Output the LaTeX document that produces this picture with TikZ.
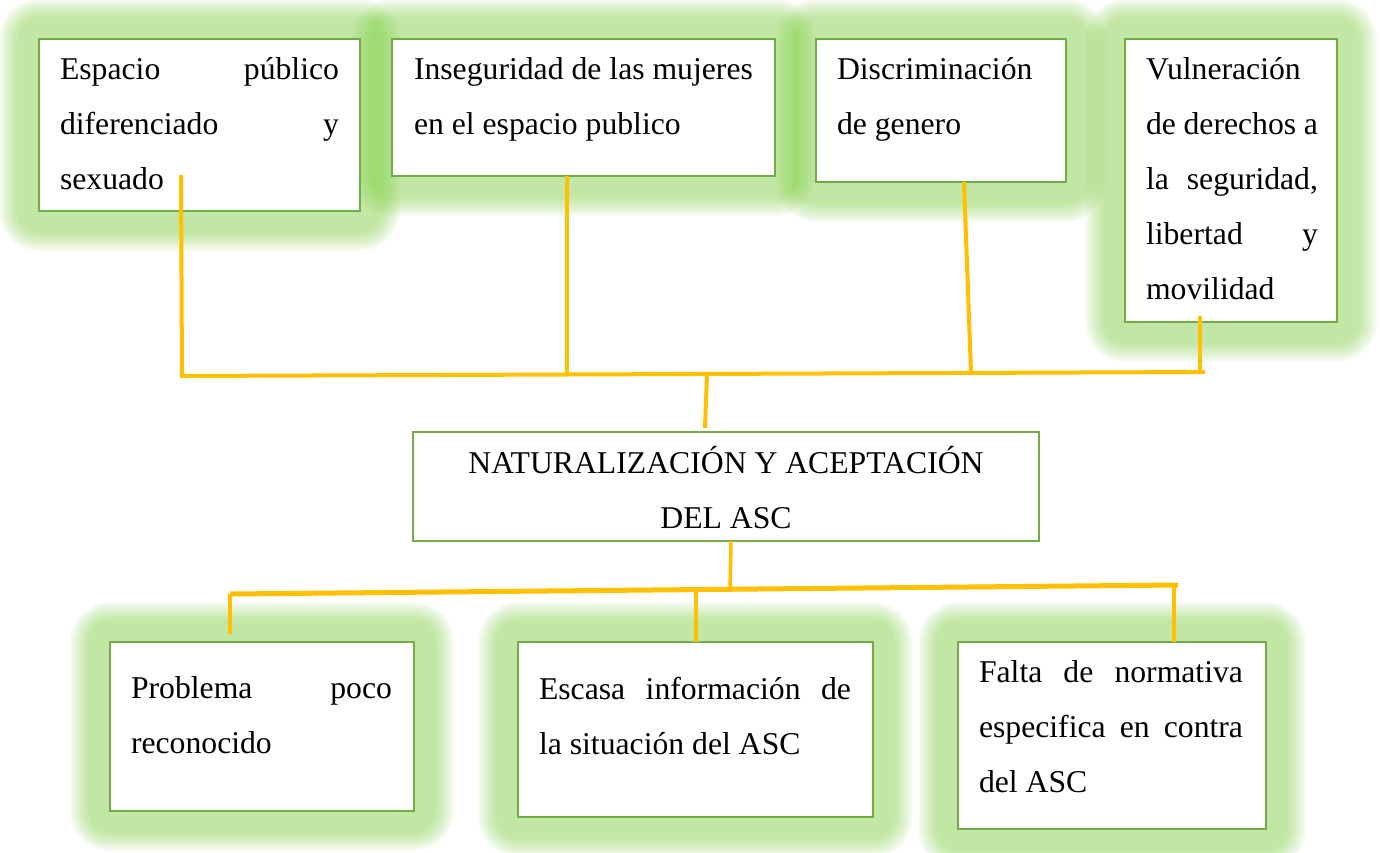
\documentclass[tikz,border=0pt]{standalone}
\usepackage{fontspec}
\setmainfont{Liberation Serif}
\usetikzlibrary{calc}
\definecolor{boxgreen}{HTML}{70AD47}
\definecolor{glowgreen}{RGB}{123,209,57}
\definecolor{linkgold}{HTML}{FFC000}
\pgfdeclarelayer{bg}
\pgfsetlayers{bg,main}
\newcommand\glowbox[1]{%
  \foreach \e in {40,38,...,22}{%
    \fill[glowgreen, opacity=0.056, rounded corners=\e pt]
      ([shift={(-\e pt,\e pt)}]#1.north west) rectangle ([shift={(\e pt,-\e pt)}]#1.south east);
  }%
}
\begin{document}
\begin{tikzpicture}[x=1pt,y=-1pt,
  box/.style={draw=boxgreen, line width=2pt, fill=white, rectangle, inner sep=0pt, outer sep=0pt},
  txt/.style={anchor=base west, inner sep=0pt, outer sep=0pt, align=justify,
              font=\fontsize{31.7}{55}\selectfont},
  link/.style={draw=linkgold, line width=4pt},
  linkthick/.style={draw=linkgold, line width=5pt},
  linkthin/.style={draw=linkgold, line width=3.5pt}
]
\useasboundingbox (0,0) rectangle (1380,852);

% boxes
\node[box, minimum width=321pt, minimum height=172pt] (b1) at (199.5,125) {};
\node[box, minimum width=383pt, minimum height=137pt] (b2) at (583.5,107.5) {};
\node[box, minimum width=250pt, minimum height=143pt] (b3) at (941,110.5) {};
\node[box, minimum width=212pt, minimum height=283pt] (b4) at (1231,180.5) {};
\node[box, minimum width=626pt, minimum height=109pt] (c) at (726,486.5) {};
\node[box, minimum width=304pt, minimum height=169pt] (d1) at (262,726.5) {};
\node[box, minimum width=355pt, minimum height=175pt] (d2) at (695.5,729.5) {};
\node[box, minimum width=308pt, minimum height=187pt] (d3) at (1112,735.5) {};

% background and glows
\begin{pgfonlayer}{bg}
  \fill[white] (0,0) rectangle (1380,852);
  \glowbox{b1}\glowbox{b2}\glowbox{b3}\glowbox{b4}
  \glowbox{d1}\glowbox{d2}\glowbox{d3}
\end{pgfonlayer}

% texts
\node[txt, text width=279pt] (t1) at (60,79) {Espacio público\linebreak diferenciado y\linebreak sexuado};
\node[txt, text width=345pt] (t2) at (414,79) {Inseguridad de las mujeres\\ en el espacio publico};
\node[txt, text width=208pt] (t3) at (837,79) {Discriminación\\ de genero};
\node[txt, text width=172pt] (t4) at (1146,79) {Vulneración\\ de derechos a\\ la seguridad,\linebreak libertad y\linebreak movilidad};
\node[anchor=base, inner sep=0pt, align=center, font=\fontsize{31.7}{55}\selectfont] (tc) at (726,528) {NATURALIZACIÓN Y ACEPTACIÓN\\ DEL ASC};
\node[txt, text width=261pt] (u1) at (131,698) {Problema poco\linebreak reconocido};
\node[txt, text width=312pt] (u2) at (539,699) {Escasa información de\linebreak la situación del ASC};
\node[txt, text width=264pt] (u3) at (979,682) {Falta de normativa\linebreak especifica en contra\linebreak del ASC};

% junction coordinates
\coordinate (h1) at (182,376);
\coordinate (h2) at (567,375);
\coordinate (h3) at (971,373);
\coordinate (h4) at (1200,372);
\coordinate (hend) at (1205,372);
\coordinate (hm) at (707,374.5);
\coordinate (k1) at (230,594);
\coordinate (km) at (730,590);
\coordinate (k2) at (696,591);
\coordinate (k3) at (1174,586);
\coordinate (kend) at (1178,585);

% top connectors
\draw[link] ([shift={(-18.5pt,36pt)}]b1.south) -- ([shift={(0pt,-2pt)}]h1);
\draw[link] ([shift={(-16.5pt,0pt)}]b2.south) -- (h2);
\draw[link] ([shift={(23pt,0pt)}]b3.south) -- (h3);
\draw[link] ([shift={(-31pt,6pt)}]b4.south) -- (h4);
\draw[link] (h1) -- (hend);
\draw[link] (hm) -- ([shift={(-21pt,4pt)}]c.north);

% bottom connectors
\draw[linkthin] ([shift={(5pt,0pt)}]c.south) -- (km);
\draw[linkthick] (k1) -- (kend);
\draw[linkthin] (k1) -- ([shift={(-32pt,8pt)}]d1.north);
\draw[linkthin] (k2) -- ([shift={(0.5pt,0pt)}]d2.north);
\draw[linkthin] (k3) -- ([shift={(62pt,0pt)}]d3.north);
\end{tikzpicture}
\end{document}
